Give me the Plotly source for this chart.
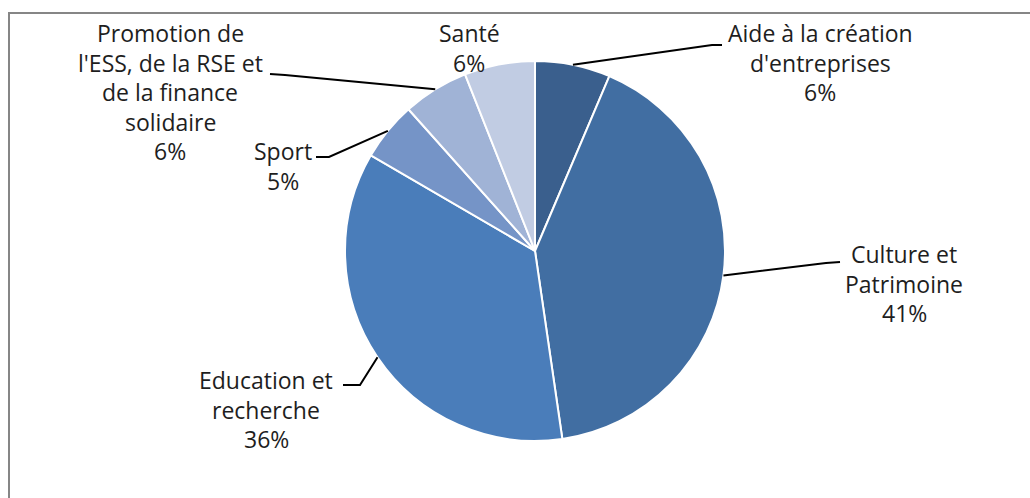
import math
import plotly.graph_objects as go

# ---- data ----
categories = ["Aide à la création d'entreprises", "Culture et Patrimoine",
              "Education et recherche", "Sport",
              "Promotion de l'ESS, de la RSE et de la finance solidaire", "Santé"]
label_lines = [["Aide à la création", "d'entreprises"], ["Culture et", "Patrimoine"],
               ["Education et", "recherche"], ["Sport"],
               ["Promotion de", "l'ESS, de la RSE et", "de la finance", "solidaire"], ["Santé"]]
values = [6.4, 41.3, 35.7, 5.0, 5.6, 6.0]
colors = ["#3A5F8D", "#416EA2", "#4A7DBA", "#7594C7", "#A0B3D6", "#C1CCE3"]

W, H = 1030, 498
CX, CY, R = 535, 251, 190

# label layout (pixel positions): center x, first line y
label_pos = [(820, 33), (904, 254), (266, 380), (283, 151), (170, 33), (469, 33)]
# leader lines: elbow and end points (None = no leader)
leaders = [((712, 45), (722, 45)), ((826, 263), (840, 262)), ((360, 385), (343, 385)),
           ((329, 157), (316, 157)), ((285, 75), (270, 74)), None]
LINE_H = 29.5

def px(x):
    return x / W

def py(y):
    return 1 - y / H

fig = go.Figure(go.Pie(
    labels=categories, values=values, sort=False, direction="clockwise", rotation=0,
    marker=dict(colors=colors, line=dict(color="white", width=2)),
    textinfo="none", hoverinfo="label+percent", showlegend=False,
    domain=dict(x=[px(CX - R), px(CX + R)], y=[py(CY + R), py(CY - R)]),
))

total = sum(values)
annotations = []
shapes = []
cum = 0.0
for i, v in enumerate(values):
    mid = (cum + v / 2) / total * 2 * math.pi
    cum += v
    lines = label_lines[i] + [f"{round(v / total * 100)}%"]
    lx, ly = label_pos[i]
    for j, t in enumerate(lines):
        annotations.append(dict(
            x=px(lx), y=py(ly + j * LINE_H), xref="paper", yref="paper",
            text=t, showarrow=False, xanchor="center", yanchor="middle",
            font=dict(family="Open Sans", size=23, color="#1e1e1e")))
    if leaders[i] is not None:
        ax = CX + R * math.sin(mid)
        ay = CY - R * math.cos(mid)
        (ex, ey), (fx, fy) = leaders[i]
        path = f"M {px(ax)} {py(ay)} L {px(ex)} {py(ey)} L {px(fx)} {py(fy)}"
        shapes.append(dict(type="path", path=path, xref="paper", yref="paper",
                           line=dict(color="black", width=2)))

# chart frame
shapes.append(dict(type="rect", xref="paper", yref="paper",
                   x0=px(9), x1=px(W + 20), y0=py(H + 20), y1=py(13),
                   line=dict(color="#868686", width=2), fillcolor="rgba(0,0,0,0)"))

fig.update_layout(
    width=W, height=H, margin=dict(l=0, r=0, t=0, b=0),
    paper_bgcolor="white", plot_bgcolor="white",
    annotations=annotations, shapes=shapes,
)

fig.write_html("out.html")
